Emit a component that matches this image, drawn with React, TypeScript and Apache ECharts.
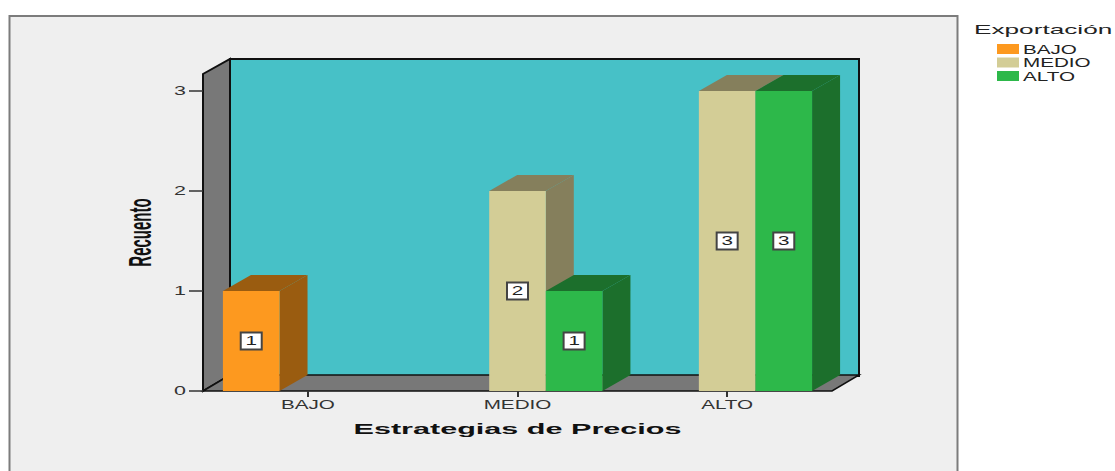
import React, { useEffect, useRef } from "react";
import * as echarts from "echarts";

// Exportación counts per pricing strategy level
const categories = ["BAJO", "MEDIO", "ALTO"];
const yTicks = [0, 1, 2, 3];
const bajoValues = [1, 0, 0];
const medioValues = [0, 2, 3];
const altoValues = [0, 1, 3];
const legendNames = ["BAJO", "MEDIO", "ALTO"];
const xTitle = "Estrategias de Precios";
const yTitle = "Recuento";
const legendTitle = "Exportación";

const FONT = '"Liberation Sans", Arial, sans-serif';
const DEPTH_X = 27;
const DEPTH_Y = 16;
const BAR_DEPTH_X = 28;
const WIDE = 1.72; // horizontal stretch of every text
const palette = [
  { front: "#FD991F", side: "#9A5C10" },
  { front: "#D3CD96", side: "#857F5C" },
  { front: "#2DB84A", side: "#1C6F2C" },
];

const poly = (points: number[][], fill: string, stroke?: string, lineWidth = 0) => ({
  type: "polygon",
  shape: { points },
  style: { fill, stroke: stroke ?? "none", lineWidth },
});

// Extruded bar: one custom series per Exportación level, placed in its slot of the band
function barSeries(name: string, values: number[], slot: number) {
  return {
    name,
    type: "custom",
    z: 3 + slot,
    silent: true,
    encode: { x: 0, y: 1 },
    data: values.map((v, i) => [i, v]),
    renderItem: (_params: any, api: any) => {
      const value = api.value(1);
      if (!value) return { type: "group", children: [] };
      const [cx, top] = api.coord([api.value(0), value]);
      const [, base] = api.coord([api.value(0), 0]);
      const band = api.size([1, 0])[0];
      const w = band * 0.27;
      const x0 = cx + (slot - 1.5) * w;
      const x1 = x0 + w;
      const mx = (x0 + x1) / 2;
      const my = (top + base) / 2;
      const { front, side } = palette[slot];
      return {
        type: "group",
        children: [
          poly([[x1, base], [x1 + BAR_DEPTH_X, base - DEPTH_Y], [x1 + BAR_DEPTH_X, top - DEPTH_Y], [x1, top]], side),
          poly([[x0, top], [x0 + BAR_DEPTH_X, top - DEPTH_Y], [x1 + BAR_DEPTH_X, top - DEPTH_Y], [x1, top]], side),
          { type: "rect", shape: { x: x0, y: top, width: w, height: base - top }, style: { fill: front } },
          {
            type: "rect",
            shape: { x: mx - 10.5, y: my - 8.5, width: 21, height: 17 },
            style: { fill: "#FFFFFF", stroke: "#444444", lineWidth: 2 },
          },
          {
            type: "text",
            x: mx,
            y: my,
            scaleX: WIDE,
            style: {
              text: String(value),
              fill: "#222222",
              font: `12px ${FONT}`,
              textAlign: "center",
              textVerticalAlign: "middle",
            },
          },
        ],
      };
    },
  };
}

// Back wall, left wall and floor of the 3D plot box
const wallsSeries = {
  type: "custom",
  z: 1,
  silent: true,
  encode: { x: 0, y: 1 },
  data: [[0, 0]],
  renderItem: (params: any) => {
    const { x, y, width, height } = params.coordSys;
    const r = x + width;
    const b = y + height;
    const top = y - 17;
    return {
      type: "group",
      children: [
        {
          type: "rect",
          shape: { x: x + DEPTH_X, y: top - DEPTH_Y + 1, width, height: b - top + 0 },
          style: { fill: "#47C1C7", stroke: "#101010", lineWidth: 2 },
        },
        poly([[x, b], [x, top], [x + DEPTH_X, top - DEPTH_Y + 1], [x + DEPTH_X, b - DEPTH_Y]], "#787878", "#101010", 2),
        poly([[x, b], [x + DEPTH_X, b - DEPTH_Y], [r + DEPTH_X, b - DEPTH_Y], [r, b]], "#787878", "#101010", 1.5),
      ],
    };
  },
};

// Category labels below the axis
const xLabelSeries = {
  type: "custom",
  z: 8,
  silent: true,
  encode: { x: 0, y: 1 },
  data: categories.map((_, i) => [i, 0]),
  renderItem: (_params: any, api: any) => {
    const [cx, y] = api.coord([api.value(0), 0]);
    return {
      type: "text",
      x: cx,
      y: y + 14,
      scaleX: WIDE,
      style: {
        text: categories[api.value(0)],
        fill: "#333333",
        font: `12px ${FONT}`,
        textAlign: "center",
        textVerticalAlign: "middle",
      },
    };
  },
};

// Count labels left of the axis
const yLabelSeries = {
  type: "custom",
  z: 8,
  silent: true,
  encode: { x: 0, y: 1 },
  data: yTicks.map((v) => [0, v]),
  renderItem: (params: any, api: any) => {
    const v = api.value(1);
    return {
      type: "text",
      x: params.coordSys.x - 23,
      y: api.coord([0, v])[1],
      scaleX: WIDE,
      style: {
        text: String(v),
        fill: "#333333",
        font: `12.5px ${FONT}`,
        textAlign: "center",
        textVerticalAlign: "middle",
      },
    };
  },
};

const legendItems = legendNames.flatMap((name, i) => [
  {
    type: "rect",
    shape: { x: 997, y: 44 + i * 13.5, width: 22, height: 10 },
    style: { fill: palette[i].front },
  },
  {
    type: "text",
    x: 1023,
    y: 50 + i * 13.5,
    scaleX: WIDE,
    style: {
      text: name,
      fill: "#222222",
      font: `12px ${FONT}`,
      textAlign: "left",
      textVerticalAlign: "middle",
    },
  },
]);

export default function App() {
  const ref = useRef<HTMLDivElement>(null);

  useEffect(() => {
    const chart = echarts.init(ref.current!, undefined, { renderer: "svg" });
    chart.setOption({
      animation: false,
      backgroundColor: "#FFFFFF",
      grid: { left: 203, right: 283, top: 91, height: 300, containLabel: false },
      xAxis: {
        type: "category",
        data: categories,
        axisLine: { show: false },
        axisTick: { show: true, alignWithLabel: true, length: 6, lineStyle: { color: "#333333", width: 2 } },
        axisLabel: { show: false },
        z: 9,
      },
      yAxis: {
        type: "value",
        min: 0,
        max: 3,
        interval: 1,
        splitLine: { show: false },
        axisLine: { show: false },
        axisTick: { show: true, length: 14, lineStyle: { color: "#333333", width: 1.5 } },
        axisLabel: { show: false },
        z: 9,
      },
      graphic: {
        elements: [
          {
            type: "rect",
            z: -10,
            shape: { x: 9.5, y: 16, width: 948, height: 480 },
            style: { fill: "#EFEFEF", stroke: "#7C7C7C", lineWidth: 2 },
          },
          {
            type: "text",
            x: 517.5,
            y: 429,
            scaleX: 2.04,
            style: {
              text: xTitle,
              fill: "#111111",
              font: `bold 15px ${FONT}`,
              textAlign: "center",
              textVerticalAlign: "middle",
            },
          },
          {
            type: "text",
            x: 140,
            y: 232.5,
            rotation: Math.PI / 2,
            scaleY: 2.1,
            style: {
              text: yTitle,
              fill: "#111111",
              font: `bold 15px ${FONT}`,
              textAlign: "center",
              textVerticalAlign: "middle",
            },
          },
          {
            type: "text",
            x: 974,
            y: 29,
            scaleX: 1.94,
            style: {
              text: legendTitle,
              fill: "#222222",
              font: `13.5px ${FONT}`,
              textAlign: "left",
              textVerticalAlign: "middle",
            },
          },
          ...legendItems,
        ],
      },
      series: [
        wallsSeries,
        barSeries("BAJO", bajoValues, 0),
        barSeries("MEDIO", medioValues, 1),
        barSeries("ALTO", altoValues, 2),
        xLabelSeries,
        yLabelSeries,
      ],
    });
    return () => chart.dispose();
  }, []);

  return <div ref={ref} style={{ position: "absolute", left: 0, top: 0, width: 1115, height: 471 }} />;
}
